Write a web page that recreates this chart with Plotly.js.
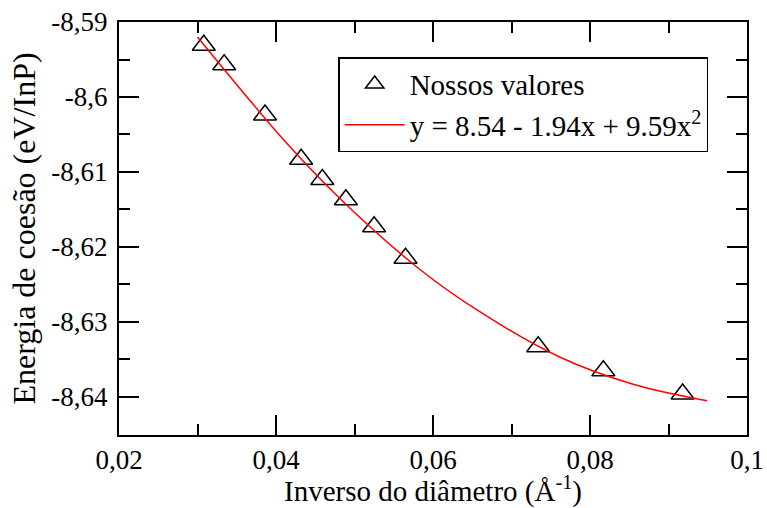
<!DOCTYPE html>
<html>
<head>
<meta charset="utf-8">
<script src="https://cdn.plot.ly/plotly-3.0.1.min.js"></script>
<style>
  html, body { margin: 0; padding: 0; background: #fff; }
  #chart { width: 767px; height: 508px; }
</style>
</head>
<body>
<div id="chart"></div>
<script>
// Data points (inverse diameter, cohesive energy)
const invDiameter = [0.0308, 0.0334, 0.0386, 0.0432, 0.0459, 0.0489, 0.0525, 0.0565, 0.0734, 0.0817, 0.0918];
const cohesionEnergy = [-8.5931, -8.5957, -8.6024, -8.6083, -8.6110, -8.6137, -8.6173, -8.6215, -8.6333, -8.6365, -8.6396];

// Fitted curve
const fitX = [0.0300, 0.0414, 0.0488, 0.0581, 0.0656, 0.0762, 0.0855, 0.0949];
const fitY = [-8.5920, -8.6062, -8.6142, -8.6228, -8.6284, -8.6347, -8.6383, -8.6405];

// Tick labels
const xTickVals = [0.02, 0.04, 0.06, 0.08, 0.1];
const xTickText = ['0,02', '0,04', '0,06', '0,08', '0,1'];
const xMinorVals = [0.03, 0.05, 0.07, 0.09];
const yTickVals = [-8.64, -8.63, -8.62, -8.61, -8.60, -8.59];
const yTickText = ['-8,64', '-8,63', '-8,62', '-8,61', '-8,6', '-8,59'];
const yMinorVals = [-8.635, -8.625, -8.615, -8.605, -8.595];

const legendPoints = 'Nossos valores';
const legendFit = 'y = 8.54 - 1.94x + 9.59x<sup>2</sup>';

const FONT = 'serif';

const traces = [
  {
    x: invDiameter, y: cohesionEnergy,
    type: 'scatter', mode: 'markers', name: legendPoints,
    marker: { symbol: 'triangle-up-open', size: 20, color: '#000', line: { color: '#000', width: 1.5 } }
  },
  {
    x: fitX, y: fitY,
    type: 'scatter', mode: 'lines', name: legendFit,
    line: { color: '#ff0000', width: 1.5, shape: 'spline', smoothing: 1 }
  }
];

const axisCommon = {
  showgrid: false, zeroline: false,
  showline: true, linecolor: '#000', linewidth: 2,
  mirror: 'allticks',
  ticks: 'inside', ticklen: 20, tickwidth: 1.5, tickcolor: '#000',
  tickfont: { family: FONT, size: 27 }
};

const layout = {
  width: 767, height: 508,
  margin: { l: 119, r: 20, t: 22, b: 73 },
  paper_bgcolor: '#fff', plot_bgcolor: '#fff',
  font: { family: FONT, color: '#000' },
  showlegend: true,
  xaxis: Object.assign({}, axisCommon, {
    range: [0.02, 0.1],
    tickmode: 'array', tickvals: xTickVals, ticktext: xTickText,
    minor: { tickmode: 'array', tickvals: xMinorVals, ticks: 'inside', ticklen: 11, tickwidth: 1.5, tickcolor: '#000' },
    title: { text: 'Inverso do diâmetro (Å<sup>-1</sup>)', font: { family: FONT, size: 29 }, standoff: 4 }
  }),
  yaxis: Object.assign({}, axisCommon, {
    range: [-8.64507, -8.59],
    tickmode: 'array', tickvals: yTickVals, ticktext: yTickText,
    ticklabelstandoff: 4,
    minor: { tickmode: 'array', tickvals: yMinorVals, ticks: 'inside', ticklen: 11, tickwidth: 1.5, tickcolor: '#000' },
    title: { text: 'Energia de coesão (eV/InP)', font: { family: FONT, size: 32 }, standoff: 6 }
  }),
  legend: {
    x: 0.349, y: 0.915, xanchor: 'left', yanchor: 'top',
    bgcolor: '#fff', bordercolor: '#000', borderwidth: 1.5,
    font: { family: FONT, size: 29 },
    itemwidth: 60,
    tracegroupgap: 0
  }
};

Plotly.newPlot('chart', traces, layout, { displayModeBar: false });
</script>
</body>
</html>
